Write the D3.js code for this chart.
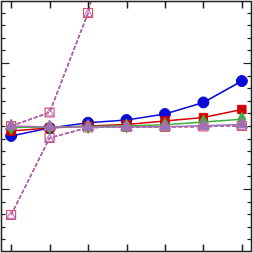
<!DOCTYPE html>
<html>
<head>
<meta charset="utf-8">
<script src="https://cdn.jsdelivr.net/npm/d3@7"></script>
<style>
body { margin: 0; background: #fff; }
</style>
</head>
<body>
<div id="chart"></div>
<script>
// x positions are just the step index
var steps = [0, 1, 2, 3, 4, 5, 6];

// solid series
var blueVals = [-0.579, -0.516, -0.474, -0.452, -0.405, -0.313, -0.143];
var redVals = [-0.540, -0.516, -0.500, -0.488, -0.460, -0.433, -0.369];
var greenVals = [-0.512, -0.508, -0.504, -0.500, -0.490, -0.468, -0.446];
var purpleVals = [-0.500, -0.508, -0.508, -0.508, -0.505, -0.499, -0.488];

// dashed series (open markers), upper branch leaves the top of the plot
var dashUpper = [-0.500, -0.393, 0.397, 1.65];
var dashLower = [-1.206, -0.595, -0.512, -0.508, -0.508, -0.504, -0.500];

var yMajor = [-1, 0];
var yMinor = d3.range(-15, 6).map(function(d){ return d / 10; });

var width = 253;
var height = 253;
var padL = 1.5, padR = 251.5, padT = 1.5, padB = 251.5;

var xScale = d3.scaleLinear().domain([-0.25, 6.25]).range([padL, padR]);
var yScale = d3.scaleLinear().domain([-1.5, 0.5]).range([252, 0]);

var svg = d3.select("#chart")
	.append("svg")
	.attr("width", width)
	.attr("height", height);

svg.append("defs").append("clipPath")
	.attr("id", "clip")
	.append("rect")
	.attr("x", padL).attr("y", padT)
	.attr("width", padR - padL).attr("height", padB - padT);

var plot = svg.append("g").attr("clip-path", "url(#clip)");

function series(vals){
	return vals.map(function(v, i){ return [steps[i], v]; });
}

var line = d3.line()
	.x(function(d){ return xScale(d[0]); })
	.y(function(d){ return yScale(d[1]); });

var sq = d3.symbol().type(d3.symbolSquare);
var tri = d3.symbol().type(d3.symbolTriangle);
var dia = d3.symbol().type(d3.symbolDiamond);
var circ = d3.symbol().type(d3.symbolCircle);

function drawSeries(vals, opt)
{
	var pts = series(vals);
	plot.append("path")
		.datum(pts)
		.attr("fill", "none")
		.attr("stroke", opt.color)
		.attr("stroke-width", 1.5)
		.attr("stroke-dasharray", opt.dash || null)
		.attr("d", line);

	plot.selectAll(null)
		.data(pts)
		.enter()
		.append("path")
		.attr("transform", function(d){
			return "translate(" + xScale(d[0]) + "," + (yScale(d[1]) + (opt.dy || 0)) + ")";
		})
		.attr("d", opt.symbol.size(opt.size)())
		.attr("fill", opt.open ? "none" : opt.color)
		.attr("stroke", opt.color)
		.attr("stroke-width", opt.open ? 1.2 : 1)
		.attr("stroke-opacity", opt.open ? 0.8 : 1);
}

// dashed pairs: red squares and purple triangles on top of each other
drawSeries(dashUpper, {color: "#dd2233", dash: "4,2", symbol: sq, size: 80, open: true});
drawSeries(dashUpper, {color: "#a868c0", dash: "4,2", symbol: tri, size: 30, open: true, dy: 1});
drawSeries(dashLower, {color: "#dd2233", dash: "4,2", symbol: sq, size: 80, open: true});
drawSeries(dashLower, {color: "#a868c0", dash: "4,2", symbol: tri, size: 30, open: true, dy: 1});

drawSeries(blueVals, {color: "#0a0ad8", symbol: circ, size: 95});
drawSeries(redVals, {color: "#d40000", symbol: sq, size: 70});
drawSeries(greenVals, {color: "#3cb03c", symbol: dia, size: 55});
drawSeries(purpleVals, {color: "#a070b4", symbol: tri, size: 60});

// frame
svg.append("rect")
	.attr("x", padL).attr("y", padT)
	.attr("width", padR - padL).attr("height", padB - padT)
	.attr("fill", "none")
	.attr("stroke", "#222")
	.attr("stroke-width", 1.5);

// x ticks, inward at top and bottom
var xTicks = svg.append("g").attr("stroke", "#222").attr("stroke-width", 1.5);
steps.forEach(function(s){
	var x = Math.round(xScale(s)) + 0.5;
	xTicks.append("line").attr("x1", x).attr("x2", x).attr("y1", padT).attr("y2", padT + 7);
	xTicks.append("line").attr("x1", x).attr("x2", x).attr("y1", padB).attr("y2", padB - 7);
});

// y ticks, inward on left and right
var yTicks = svg.append("g").attr("stroke", "#222").attr("stroke-width", 1.2);
yMinor.forEach(function(v){
	var y = Math.round(yScale(v)) + 0.5;
	if(y < padT + 2 || y > padB - 2) return;
	var major = yMajor.some(function(m){ return Math.abs(m - v) < 1e-6; });
	var len = major ? 8 : 4;
	yTicks.append("line").attr("x1", padL).attr("x2", padL + len).attr("y1", y).attr("y2", y);
	yTicks.append("line").attr("x1", padR).attr("x2", padR - len).attr("y1", y).attr("y2", y);
});
</script>
</body>
</html>
